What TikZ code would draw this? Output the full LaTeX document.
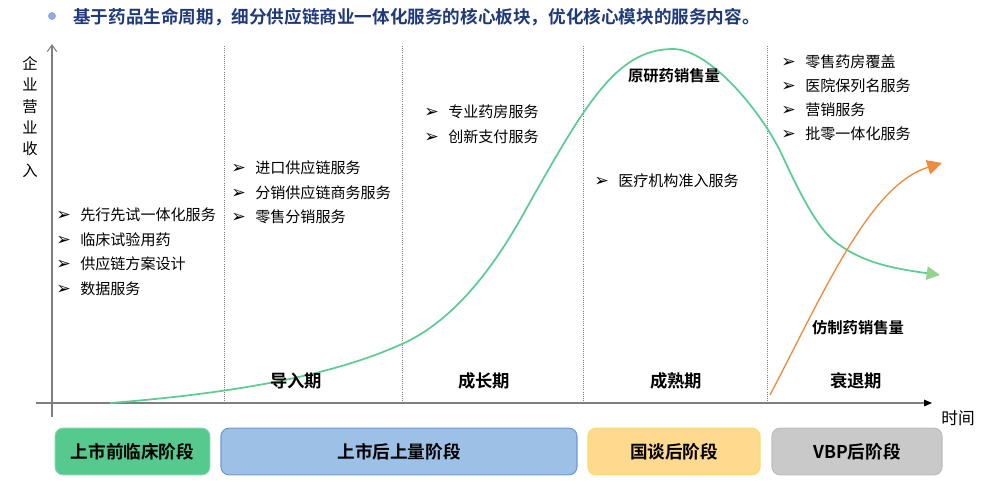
\documentclass[tikz,border=0pt]{standalone}
\usepackage{fontspec}
\setmainfont{Noto Sans CJK SC}[BoldFont={Noto Sans CJK SC Bold}]
\newfontfamily\symfont{DejaVu Sans}
\usetikzlibrary{arrows.meta}

\definecolor{titleblue}{HTML}{1F3A7A}
\definecolor{dotblue}{HTML}{8FAADC}
\definecolor{axisgray}{HTML}{7F7F7F}
\definecolor{salesgreen}{HTML}{5CCB96}
\definecolor{tipgreen}{HTML}{92D48C}
\definecolor{salesorange}{HTML}{F08A3C}
\definecolor{greenfill}{HTML}{55C98E}
\definecolor{greenline}{HTML}{7ED6A8}
\definecolor{bluefill}{HTML}{9DC0E6}
\definecolor{blueline}{HTML}{6F97D8}
\definecolor{yellowfill}{HTML}{FFD98E}
\definecolor{yellowline}{HTML}{FFD966}
\definecolor{grayfill}{HTML}{C9C9C9}
\definecolor{grayline}{HTML}{BDBDBD}

\tikzset{
  item/.style={anchor=west, inner sep=0pt, font=\fontsize{11.3}{13}\selectfont},
  period/.style={font=\bfseries\fontsize{13}{15}\selectfont},
  phasebox/.style={rounded corners=6pt, line width=0.8pt, minimum height=35pt,
    font=\bfseries\fontsize{13.2}{15}\selectfont},
}
\newcommand{\bul}{\makebox[18pt][l]{\symfont\fontsize{13}{13}\selectfont ➢}}

\begin{document}
\begin{tikzpicture}[x=0.75pt, y=-0.75pt]
    \useasboundingbox (0,0) rectangle (982,480);

    % Title
    \fill[dotblue] (52,16) circle (4);
    \node[anchor=west, inner sep=0pt, text=titleblue, font=\bfseries\fontsize{13.2}{15}\selectfont]
        (title) at (73,17) {基于药品生命周期，细分供应链商业一体化服务的核心板块，优化核心模块的服务内容。};

    % Axes
    \coordinate (ybot) at (52,417);
    \coordinate (ytop) at (52,44);
    \coordinate (xleft) at (36,403);
    \coordinate (xright) at (932,403);
    \draw[axisgray, line width=0.8pt, -{Straight Barb[length=5pt, width=7pt]}] (ybot) -- (ytop);
    \draw[axisgray, line width=0.8pt, -{Triangle[length=6pt, width=5pt, color=black, fill=black]}] (xleft) -- (xright);
    \node[align=center, font=\fontsize{11.5}{16}\selectfont] (ylab) at (30,117) {企\\业\\营\\业\\收\\入};
    \node[font=\fontsize{12.5}{14}\selectfont] (xlab) at (958,418) {时间};

    % Stage separators
    \foreach \x in {224,402,583,767} {
        \draw[axisgray, line width=0.6pt, densely dotted] (\x,46) -- (\x,403);
    }

    % Original drug sales
    \draw[salesgreen, line width=1.3pt, -{Triangle[length=10pt, width=10pt, color=tipgreen, fill=tipgreen]}]
        (110,403) .. controls (250,392) and (340,372) .. (402,344)
        .. controls (440,327) and (480,290) .. (520,220)
        .. controls (585,104) and (616,49) .. (673,49)
        .. controls (710,49) and (763,113) .. (783,157)
        .. controls (795,183) and (815,225) .. (833,240)
        .. controls (860,262) and (890,268) .. (940,275);

    % Generic drug sales
    \draw[salesorange, line width=1pt, -{Triangle[length=11pt, width=11pt]}]
        (770,395) .. controls (825,290) and (870,185) .. (942,163);

    % Curve labels
    \node[font=\bfseries\fontsize{11.5}{13}\selectfont] (origin) at (674,76) {原研药销售量};
    \node[font=\bfseries\fontsize{11.5}{13}\selectfont] (generic) at (858,328) {仿制药销售量};

    % Service lists
    \foreach \t [count=\i] in {先行先试一体化服务,临床试验用药,供应链方案设计,数据服务} {
        \node[item] (pre\i) at (56,{215+24.5*(\i-1)}) {\bul\t};
    }
    \foreach \t [count=\i] in {进口供应链服务,分销供应链商务服务,零售分销服务} {
        \node[item] (intro\i) at (231,{168+24.5*(\i-1)}) {\bul\t};
    }
    \foreach \t [count=\i] in {专业药房服务,创新支付服务} {
        \node[item] (grow\i) at (424,{112+24.5*(\i-1)}) {\bul\t};
    }
    \node[item] (mature1) at (594,181) {\bul 医疗机构准入服务};
    \foreach \t [count=\i] in {零售药房覆盖,医院保列名服务,营销服务,批零一体化服务} {
        \node[item] (decl\i) at (781,{62+24*(\i-1)}) {\bul\t};
    }

    % Period labels
    \node[period] (introp) at (296,381) {导入期};
    \node[period] (growp) at (484,381) {成长期};
    \node[period] (matp) at (676,381) {成熟期};
    \node[period] (declp) at (856,381) {衰退期};

    % Phase boxes
    \node[phasebox, fill=greenfill, draw=greenline, minimum width=116pt] (preclin) at (132.5,451.5) {上市前临床阶段};
    \node[phasebox, fill=bluefill, draw=blueline, minimum width=267pt] (postlaunch) at (399,451.5) {上市后上量阶段};
    \node[phasebox, fill=yellowfill, draw=yellowline, minimum width=129pt] (nego) at (674,451.5) {国谈后阶段};
    \node[phasebox, fill=grayfill, draw=grayline, minimum width=127.5pt] (vbp) at (857,451.5) {VBP后阶段};
\end{tikzpicture}
\end{document}
